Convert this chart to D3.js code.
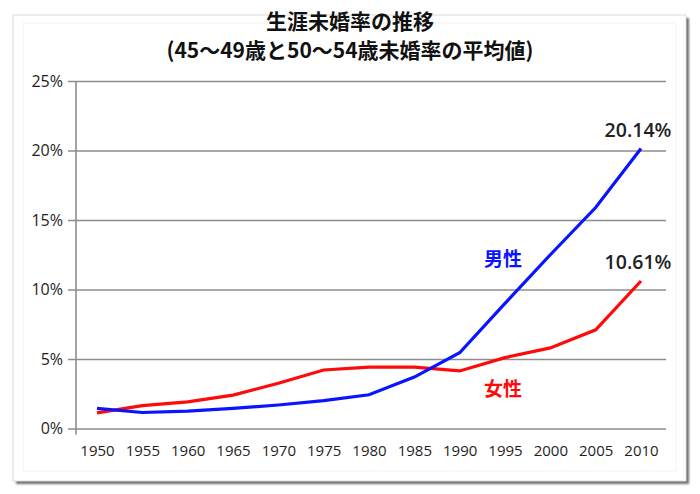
<!DOCTYPE html>
<html>
<head>
<meta charset="utf-8">
<script src="https://cdn.jsdelivr.net/npm/d3@7"></script>
<style>
  body { margin: 0; background: #fff; }
  .tick text { font-family: "Open Sans", "Noto Sans", sans-serif; fill: #1e1e1e; }
  .jp { font-family: "Noto Sans CJK JP", sans-serif; font-weight: bold; }
</style>
</head>
<body>
<div id="chart"></div>
<script>
const width = 700,
    height = 494,
    gridLeft = 68,   // start of grid lines
    axisX = 76,      // vertical axis
    gridRight = 666,
    plotTop = 81,
    plotBottom = 428.5;

// data
const years = [1950, 1955, 1960, 1965, 1970, 1975, 1980, 1985, 1990, 1995, 2000, 2005, 2010];
const male = [1.45, 1.15, 1.25, 1.45, 1.69, 2.0, 2.43, 3.7, 5.45, 9.0, 12.5, 15.9, 20.14];
const female = [1.12, 1.64, 1.92, 2.4, 3.25, 4.21, 4.42, 4.42, 4.14, 5.1, 5.8, 7.1, 10.61];
const yTicks = [0, 5, 10, 15, 20, 25];
const titleLines = ["生涯未婚率の推移", "(45〜49歳と50〜54歳未婚率の平均値)"];

const svg = d3.select("#chart")
    .append("svg")
    .attr("width", width)
    .attr("height", height);

// card with drop shadow
const defs = svg.append("defs");
defs.append("filter").attr("id", "blur")
    .append("feGaussianBlur").attr("stdDeviation", 1.2);

svg.append("rect")
    .attr("x", 16).attr("y", 18)
    .attr("width", 673).attr("height", 466)
    .attr("fill", "#6e6e6e")
    .attr("filter", "url(#blur)");
svg.append("rect")
    .attr("x", 13).attr("y", 15)
    .attr("width", 673).attr("height", 466)
    .attr("fill", "#fff")
    .attr("stroke", "#dcdcdc");
svg.append("rect")
    .attr("x", 23).attr("y", 23)
    .attr("width", 653).attr("height", 448)
    .attr("fill", "none")
    .attr("stroke", "#f3f3f3");

// scales
const x = d3.scalePoint().domain(years).range([97, 641]);
const y = d3.scaleLinear().domain([0, 25]).range([plotBottom, plotTop]);

// grid + y labels
const yAxis = d3.axisLeft(y)
    .tickValues(yTicks)
    .tickSize(-(gridRight - gridLeft))
    .tickPadding(5)
    .tickFormat(d => d + "%");

svg.append("g")
    .attr("transform", "translate(" + gridLeft + ",0)")
    .call(yAxis)
    .call(g => g.select(".domain").remove())
    .call(g => g.selectAll(".tick line").attr("stroke", "#8c8c8c").attr("stroke-width", 1.6))
    .call(g => g.selectAll(".tick text").attr("font-size", 16));

svg.append("line")
    .attr("x1", axisX).attr("x2", axisX)
    .attr("y1", plotTop).attr("y2", plotBottom + 6)
    .attr("stroke", "#8c8c8c")
    .attr("stroke-width", 1.6);

// x labels
svg.append("g")
    .attr("transform", "translate(0," + plotBottom + ")")
    .call(d3.axisBottom(x).tickSize(0).tickPadding(17))
    .call(g => g.select(".domain").remove())
    .call(g => g.selectAll(".tick text").attr("font-size", 15));

// lines
const line = d3.line()
    .x((d, i) => x(years[i]))
    .y(d => y(d));

svg.append("path")
    .datum(female)
    .attr("fill", "none")
    .attr("stroke", "#ff0a0a")
    .attr("stroke-width", 3.2)
    .attr("d", line);

svg.append("path")
    .datum(male)
    .attr("fill", "none")
    .attr("stroke", "#0a14ff")
    .attr("stroke-width", 3.2)
    .attr("d", line);

// title
svg.selectAll(".title")
    .data(titleLines)
    .enter()
    .append("text")
    .attr("class", "jp")
    .attr("x", 350)
    .attr("y", (d, i) => 29 + i * 29)
    .attr("text-anchor", "middle")
    .attr("font-size", 21)
    .attr("fill", "#111")
    .text(d => d);

// end values
const last = years.length - 1;
[male, female].forEach(s => {
    svg.append("text")
        .attr("x", x(years[last]) - 3)
        .attr("y", y(s[last]) - 12)
        .attr("text-anchor", "middle")
        .attr("font-family", "'Open Sans', sans-serif")
        .attr("font-weight", 600)
        .attr("font-size", 19.5)
        .attr("fill", "#222")
        .text(s[last].toFixed(2) + "%");
});

// series labels
svg.append("text")
    .attr("class", "jp")
    .attr("x", x(1995) - 2)
    .attr("y", 266)
    .attr("text-anchor", "middle")
    .attr("font-size", 19)
    .attr("fill", "#0a14ff")
    .text("男性");

svg.append("text")
    .attr("class", "jp")
    .attr("x", x(1995) - 2)
    .attr("y", 396)
    .attr("text-anchor", "middle")
    .attr("font-size", 19)
    .attr("fill", "#ff0a0a")
    .text("女性");
</script>
</body>
</html>
